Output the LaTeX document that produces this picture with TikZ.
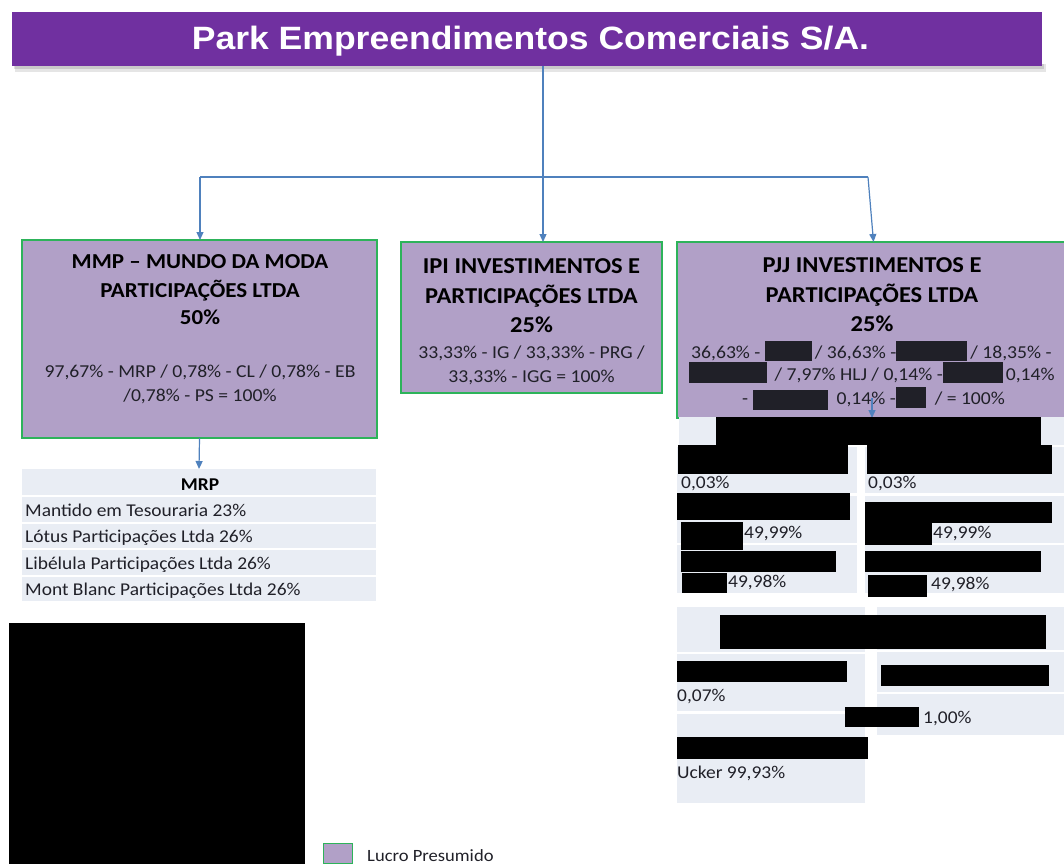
\documentclass[tikz,border=0pt]{standalone}
\usepackage{fontspec}
\setmainfont{Carlito}[FakeStretch=1.08]
\newfontfamily\titlefont{Liberation Sans}[FakeStretch=1.1]
\usetikzlibrary{arrows.meta}
\definecolor{titlepurple}{HTML}{7030A0}
\definecolor{boxfill}{HTML}{B1A0C7}
\definecolor{boxgreen}{HTML}{2DB35A}
\definecolor{linkblue}{HTML}{4F81BD}
\definecolor{cellbg}{HTML}{E9EDF4}
\definecolor{ink}{HTML}{202028}
\newcommand\myfs[1]{\fontsize{#1}{#1}\selectfont}
\newcommand\blk[3]{\rule[-#3pt]{#1pt}{#2pt}}
\begin{document}
\begin{tikzpicture}[x=1pt,y=-1pt,
  rbox/.style={inner sep=0pt, outer sep=0pt},
  orgbox/.style={rbox, draw=boxgreen, fill=boxfill, line width=1.3pt},
  cell/.style={rbox, fill=cellbg},
  redact/.style={rbox, fill=black},
  headtxt/.style={inner sep=0pt, anchor=base, font=\myfs{22.7}\bfseries, text=black},
  bodytxt/.style={inner sep=0pt, anchor=base, font=\myfs{18.2}, text=ink},
  celltxt/.style={inner sep=0pt, anchor=base west, font=\myfs{18}, text=ink},
  link/.style={draw=linkblue, line width=1.2pt},
  arr/.style={link, -{Triangle[width=7pt,length=8pt]}},
]
\useasboundingbox (0,0) rectangle (1064,864);

% ---------- title ----------
\fill[black, opacity=0.10] (15,64) rectangle (1046,72);
\fill[black, opacity=0.12] (14,64) rectangle (1044,69);
\node[rbox, fill=titlepurple, minimum width=1030, minimum height=54] (title) at (527,39) {};
\node[inner sep=0pt, anchor=base, text=white, font=\titlefont\myfs{32.3}\bfseries] (titletxt) at (530.5,50) {Park Empreendimentos Comerciais S/A.};

% ---------- main boxes ----------
\node[orgbox, minimum width=355, minimum height=198] (mmp) at (199.5,339) {};
\node[orgbox, minimum width=261, minimum height=151] (ipi) at (531.5,317.5) {};
\node[orgbox, minimum width=393, minimum height=176] (pjj) at (873.5,330) {};

% ---------- connectors from title ----------
\coordinate (jL) at (200,177);
\coordinate (jM) at (543,177);
\coordinate (jR) at (868,177);
\draw[link] (title.south -| jM) -- (jM);
\draw[link] (jL) -- (jR);
\draw[arr] (jL) -- (mmp.north -| jL);
\draw[arr] (jM) -- (ipi.north -| jM);
\draw[arr] (jR) -- (pjj.north);

% ---------- MMP text ----------
\node[headtxt, font=\myfs{21.3}\bfseries] (mmp1) at (200,268) {MMP – MUNDO DA MODA};
\node[headtxt, font=\myfs{21.3}\bfseries] (mmp2) at (200,297) {PARTICIPAÇÕES LTDA};
\node[headtxt, font=\myfs{21.3}\bfseries] (mmp3) at (200,324) {50\%};
\node[bodytxt] (mmp4) at (200,377) {97,67\% - MRP / 0,78\% - CL / 0,78\% - EB};
\node[bodytxt] (mmp5) at (200,401) {/0,78\% - PS = 100\%};

% ---------- IPI text ----------
\node[headtxt] (ipi1) at (531.5,273) {IPI INVESTIMENTOS E};
\node[headtxt] (ipi2) at (531.5,303) {PARTICIPAÇÕES LTDA};
\node[headtxt] (ipi3) at (531.5,332) {25\%};
\node[bodytxt] (ipi4) at (531.5,358) {33,33\% - IG / 33,33\% - PRG /};
\node[bodytxt] (ipi5) at (531.5,382) {33,33\% - IGG = 100\%};

% ---------- PJJ text ----------
\node[headtxt] (pjj1) at (872,272) {PJJ INVESTIMENTOS E};
\node[headtxt] (pjj2) at (872,302) {PARTICIPAÇÕES LTDA};
\node[headtxt] (pjj3) at (872,331) {25\%};
\node[bodytxt, anchor=base west] (pjj4) at (691,358) {36,63\% - \blk{47}{20}{3}\,/ 36,63\% -\blk{71}{20}{3}\,/ 18,35\% -};
\node[bodytxt, anchor=base west] (pjj5) at (689,380) {\blk{78}{21}{3}\ \,/ 7,97\% HLJ / 0,14\% -\blk{60}{21}{3}\,0,14\%};
\node[bodytxt, anchor=base west] (pjj6) at (742,404) {- \blk{75}{20}{6}\ \ 0,14\% -\blk{30}{21}{4}\ \ / = 100\%};
\coordinate (pjjarr) at (872,398);
\draw[arr] (pjjarr) -- (pjj.south -| pjjarr);

% ---------- MRP table ----------
\node[cell, minimum width=354, minimum height=26] (mrph) at (199,482) {};
\node[cell, minimum width=354, minimum height=25] (mrp1) at (199,509.5) {};
\node[cell, minimum width=354, minimum height=24] (mrp2) at (199,536) {};
\node[cell, minimum width=354, minimum height=25] (mrp3) at (199,562.5) {};
\node[cell, minimum width=354, minimum height=24] (mrp4) at (199,589) {};
\draw[arr] (mmp.south) -- (mrph.north);
\node[inner sep=0pt, anchor=base, font=\myfs{18}\bfseries, text=black] (mrpt) at (200,490) {MRP};
\node[celltxt] (mrpr1) at (25,516) {Mantido em Tesouraria 23\%};
\node[celltxt] (mrpr2) at (25,542) {Lótus Participações Ltda 26\%};
\node[celltxt] (mrpr3) at (25,569) {Libélula Participações Ltda 26\%};
\node[celltxt] (mrpr4) at (25,595) {Mont Blanc Participações Ltda 26\%};

% ---------- PJJ subsidiaries, group A ----------
\node[cell, minimum width=385, minimum height=28] (a0) at (871.5,431) {};
\node[cell, minimum width=180, minimum height=46] (a1) at (767,470) {};
\node[cell, minimum width=180, minimum height=47] (a2) at (767,519) {};
\node[cell, minimum width=180, minimum height=48] (a3) at (767,569) {};
\node[cell, minimum width=199, minimum height=46] (b1) at (964.5,470) {};
\node[cell, minimum width=199, minimum height=47] (b2) at (964.5,519) {};
\node[cell, minimum width=199, minimum height=48] (b3) at (964.5,569) {};
\node[redact, minimum width=325, minimum height=28] (r1) at (878.5,431) {};
\node[redact, minimum width=170, minimum height=29] (r2) at (763,459.5) {};
\node[redact, minimum width=185, minimum height=29] (r3) at (959.5,459.5) {};
\node[redact, minimum width=173, minimum height=27] (r4) at (763.5,506.5) {};
\node[redact, minimum width=187, minimum height=21] (r5) at (958.5,512.5) {};
\node[redact, minimum width=62, minimum height=28] (r6) at (712,536) {};
\node[redact, minimum width=67, minimum height=22] (r7) at (898.5,534) {};
\node[redact, minimum width=155, minimum height=21] (r8) at (758.5,561.5) {};
\node[redact, minimum width=176, minimum height=21] (r9) at (953,561.5) {};
\node[redact, minimum width=45, minimum height=20] (r10) at (704.5,583) {};
\node[redact, minimum width=59, minimum height=22] (r11) at (897.5,586) {};
\node[celltxt] (ta1) at (681,488) {0,03\%};
\node[celltxt] (tb1) at (868,488) {0,03\%};
\node[celltxt] (ta2) at (744,538) {49,99\%};
\node[celltxt] (tb2) at (933,538) {49,99\%};
\node[celltxt] (ta3) at (728,587) {49,98\%};
\node[celltxt] (tb3) at (931,589) {49,98\%};

% ---------- PJJ subsidiaries, group B ----------
\node[cell, minimum width=188, minimum height=45] (c1) at (771,629.5) {};
\node[cell, minimum width=188, minimum height=57] (c2) at (771,682.5) {};
\node[cell, minimum width=188, minimum height=89] (c3) at (771,758.5) {};
\node[cell, minimum width=187, minimum height=43] (d1) at (970.5,628.5) {};
\node[cell, minimum width=187, minimum height=40] (d2) at (970.5,672) {};
\node[cell, minimum width=187, minimum height=41] (d3) at (970.5,714.5) {};
\node[redact, minimum width=326, minimum height=34] (r12) at (883,632) {};
\node[redact, minimum width=170, minimum height=21] (r13) at (762,671.5) {};
\node[redact, minimum width=168, minimum height=21] (r14) at (965,675.5) {};
\node[redact, minimum width=74, minimum height=20] (r15) at (882,717) {};
\node[redact, minimum width=191, minimum height=22] (r16) at (772.5,748) {};
\node[celltxt] (tc2) at (677,701) {0,07\%};
\node[celltxt] (td3) at (923,723) {1,00\%};
\node[celltxt] (tc3) at (677,778) {Ucker 99,93\%};

% ---------- large redaction and legend ----------
\node[redact, minimum width=296, minimum height=241] (bigred) at (157,743.5) {};
\node[rbox, draw=boxgreen, fill=boxfill, line width=1.3pt, minimum width=29, minimum height=20] (legbox) at (338,853.5) {};
\node[celltxt, font=\myfs{17.2}] (legtxt) at (367,861) {Lucro Presumido};
\end{tikzpicture}
\end{document}
